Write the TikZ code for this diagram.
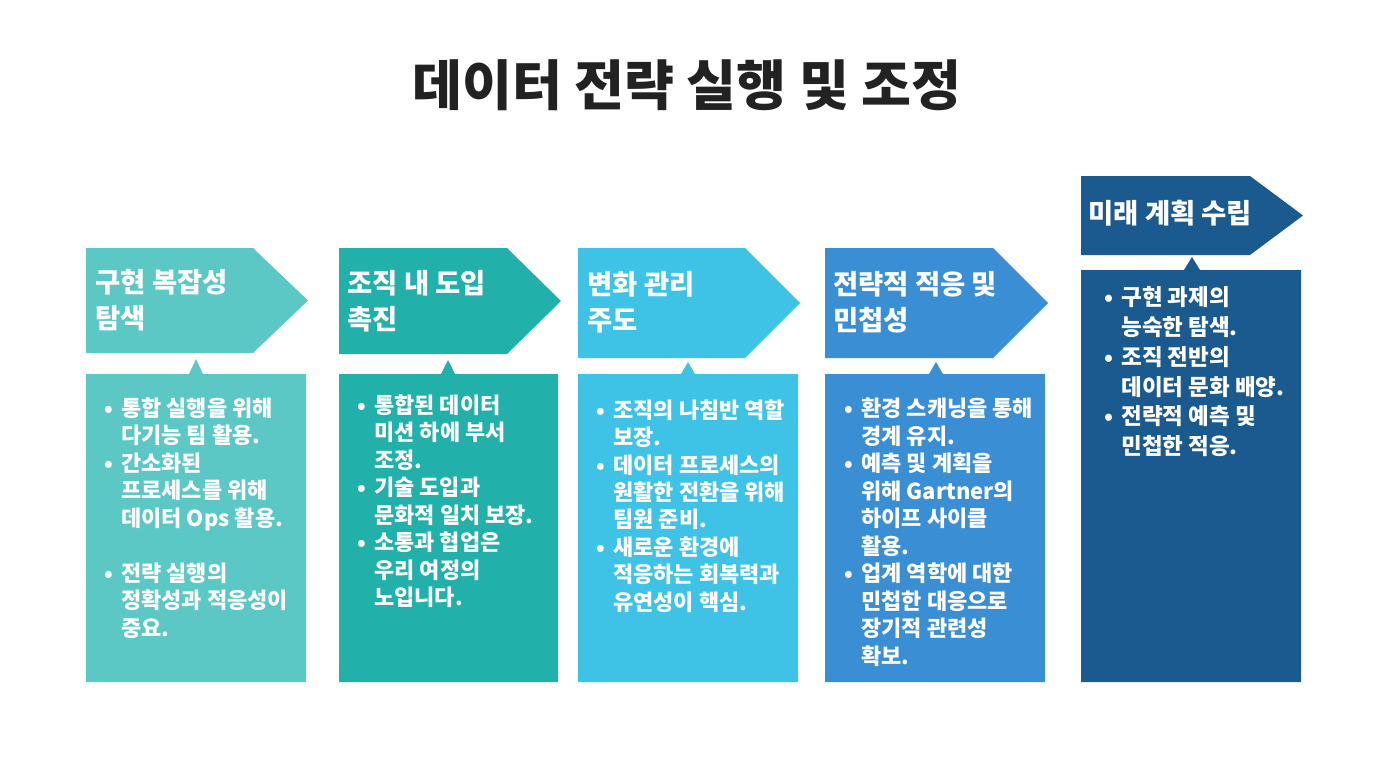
\documentclass[tikz,border=0pt]{standalone}
\usepackage{fontspec}
\setmainfont{Noto Sans CJK KR}
\usetikzlibrary{positioning}

\definecolor{colA}{HTML}{5CC8C5}
\definecolor{colB}{HTML}{22B0AA}
\definecolor{colC}{HTML}{3EC3E6}
\definecolor{colD}{HTML}{3A8ED3}
\definecolor{colE}{HTML}{1B5A8E}
\definecolor{titlegray}{HTML}{222222}

% bullet hung into the left margin
\newcommand{\bul}{\llap{\makebox[9.5pt][l]{•}}}

\begin{document}
\begin{tikzpicture}[
        x=0.02cm, y=-0.02cm,
        head/.style={anchor=west, align=left, inner sep=0pt, text=white,
            font=\bfseries\fontsize{15.6}{20.5}\selectfont},
        body/.style={anchor=north west, align=left, inner sep=0pt, text=white,
            font=\bfseries\fontsize{12.5}{15.65}\selectfont},
        bodywide/.style={body, font=\bfseries\fontsize{12.8}{17}\selectfont},
    ]
	\useasboundingbox (0,0) rectangle (1376,768);
	\fill[white] (0,0) rectangle (1376,768);

	\node[text=titlegray, font=\bfseries\fontsize{30.9}{36}\selectfont] (title) at (687,85) {데이터 전략 실행 및 조정};

	% headers
	\fill[colA] (86,248) -- (253,248) -- (308,300.5) -- (253,353) -- (86,353) -- cycle;
	\fill[colB] (339,248) -- (507,248) -- (561,301) -- (507,354) -- (339,354) -- cycle;
	\fill[colC] (578,248) -- (745,248) -- (800,303) -- (745,358) -- (578,358) -- cycle;
	\fill[colD] (825,248) -- (993,248) -- (1048,303) -- (993,358) -- (825,358) -- cycle;
	\fill[colE] (1081,176) -- (1250,176) -- (1303,215.5) -- (1250,255) -- (1081,255) -- cycle;

	% bodies with notch
	\fill[colA] (86,374) -- (189,374) -- (196,359) -- (203,374) -- (306,374) -- (306,682) -- (86,682) -- cycle;
	\fill[colB] (339,374) -- (441,374) -- (448,360) -- (455,374) -- (558,374) -- (558,682) -- (339,682) -- cycle;
	\fill[colC] (578,374) -- (681,374) -- (688,362) -- (695,374) -- (798,374) -- (798,682) -- (578,682) -- cycle;
	\fill[colD] (825,374) -- (929,374) -- (936,362) -- (943,374) -- (1045,374) -- (1045,682) -- (825,682) -- cycle;
	\fill[colE] (1081,270) -- (1184,270) -- (1192,257) -- (1200,270) -- (1301,270) -- (1301,682) -- (1081,682) -- cycle;

	\node[head] (hd1) at (95,300) {구현 복잡성\\탐색};
	\node[head] (hd2) at (347,301) {조직 내 도입\\촉진};
	\node[head] (hd3) at (587,302) {변화 관리\\주도};
	\node[head] (hd4) at (833,302) {전략적 적응 및\\민첩성};
	\node[head] (hd5) at (1088,213) {미래 계획 수립};

	\node[body] (tx1) at (121,397) {\bul 통합 실행을 위해\\다기능 팀 활용.\\
		\bul 간소화된\\프로세스를 위해\\데이터 Ops 활용.\\[\baselineskip]
		\bul 전략 실행의\\정확성과 적응성이\\중요.};
	\node[body] (tx2) at (374,394) {\bul 통합된 데이터\\미션 하에 부서\\조정.\\
		\bul 기술 도입과\\문화적 일치 보장.\\
		\bul 소통과 협업은\\우리 여정의\\노입니다.};
	\node[body] (tx3) at (613,399) {\bul 조직의 나침반 역할\\보장.\\
		\bul 데이터 프로세스의\\원활한 전환을 위해\\팀원 준비.\\
		\bul 새로운 환경에\\적응하는 회복력과\\유연성이 핵심.};
	\node[body] (tx4) at (861,398) {\bul 환경 스캐닝을 통해\\경계 유지.\\
		\bul 예측 및 계획을\\위해 Gartner의\\하이프 사이클\\활용.\\
		\bul 업계 역학에 대한\\민첩한 대응으로\\장기적 관련성\\확보.};
	\node[bodywide] (tx5) at (1121,286) {\bul 구현 과제의\\능숙한 탐색.\\
		\bul 조직 전반의\\데이터 문화 배양.\\
		\bul 전략적 예측 및\\민첩한 적응.};

    \end{tikzpicture}
\end{document}
